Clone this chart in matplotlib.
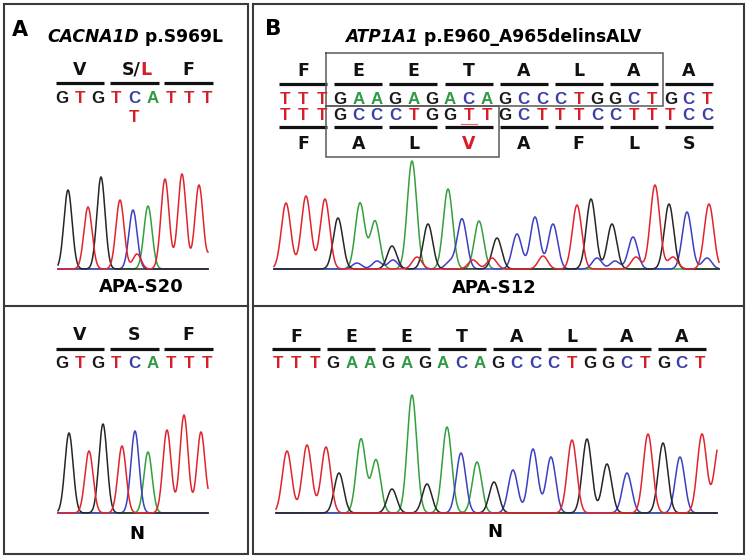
import numpy as np
import matplotlib
matplotlib.use("Agg")
import matplotlib.pyplot as plt

# ---------------- data ----------------
# Panel A (CACNA1D)
a_title_gene = "CACNA1D"
a_title_var = " p.S969L"
a_top_aa = ["V", "S/L", "F"]
a_top_bases = "GTGTCATTT"
a_top_secondary_index = 4
a_top_secondary_base = "T"
a_top_label = "APA-S20"
a_bot_aa = ["V", "S", "F"]
a_bot_bases = "GTGTCATTT"
a_bot_label = "N"

# chromatogram peaks: scan position, intensity, called base
a_top_peak_pos = [10, 30, 43, 62, 75, 79, 90, 107, 124, 141, 157]
a_top_peak_hgt = [79, 62, 92, 69, 59, 15, 63, 90, 95, 84, 40]
a_top_peak_base = ["G", "T", "G", "T", "C", "T", "A", "T", "T", "T", "T"]

a_bot_peak_pos = [11, 31, 45, 64, 77, 90, 109, 126, 143, 158]
a_bot_peak_hgt = [80, 62, 89, 67, 82, 61, 83, 98, 81, 40]
a_bot_peak_base = ["G", "T", "G", "T", "C", "A", "T", "T", "T", "T"]

# Panel B (ATP1A1)
b_title_gene = "ATP1A1"
b_title_var = " p.E960_A965delinsALV"
b_top_upper_aa = ["F", "E", "E", "T", "A", "L", "A", "A"]
b_top_upper_bases = "TTTGAAGAGACAGCCCTGGCTGCT"
b_top_lower_bases = "TTTGCCCTGGTTGCTTTCCTTTCC"
b_top_lower_aa = ["F", "A", "L", "V", "A", "F", "L", "S"]
b_top_label = "APA-S12"
b_bot_aa = ["F", "E", "E", "T", "A", "L", "A", "A"]
b_bot_bases = "TTTGAAGAGACAGCCCTGGCTGCT"
b_bot_label = "N"

b_top_peak_pos = [12, 32, 51, 64, 86, 83, 101, 103, 118, 119, 138, 143, 154, 174, 176,
                  188, 199, 205, 218, 223, 243, 261, 269, 279, 303, 317, 323, 338, 341,
                  359, 362, 381, 395, 399, 413, 433, 435]
b_top_peak_hgt = [66, 73, 70, 51, 66, 6, 48, 8, 23, 9, 108, 12, 45, 80, 7,
                  50, 9, 48, 11, 31, 35, 52, 13, 45, 64, 70, 11, 45, 8,
                  32, 12, 84, 65, 12, 57, 11, 65]
b_top_peak_base = ["T", "T", "T", "G", "A", "C", "A", "C", "G", "C", "A", "T", "G", "A", "C",
                   "C", "T", "A", "T", "G", "C", "C", "T", "C", "T", "G", "C", "G", "C",
                   "C", "T", "T", "G", "T", "C", "C", "T"]

b_bot_peak_pos = [11, 31, 50, 63, 85, 100, 116, 136, 151, 171, 185, 201, 218, 237, 257,
                  275, 296, 311, 331, 351, 372, 387, 404, 426, 443]
b_bot_peak_hgt = [62, 68, 66, 40, 74, 53, 24, 118, 29, 86, 60, 51, 31, 43, 64,
                  56, 73, 74, 49, 40, 79, 70, 56, 79, 68]
b_bot_peak_base = ["T", "T", "T", "G", "A", "A", "G", "A", "G", "A", "C", "A", "G", "C", "C",
                   "C", "T", "G", "G", "C", "T", "G", "C", "T", "T"]

# ---------------- styles ----------------
W, H = 749, 560
TXT_COL = {"T": "#d41f28", "C": "#3a3ea6", "A": "#2e9a42", "G": "#1a1a1a"}
TRC_COL = {"T": "#e0242e", "C": "#3b3fc2", "A": "#33a03c", "G": "#262626"}
DARK = "#111111"
FRAME = "#3a3a3a"
TITLE_FONT = "DejaVu Sans"
BASE_FONT = "Liberation Sans"

fig = plt.figure(figsize=(W / 100, H / 100), dpi=100)
fig.patch.set_facecolor("white")
ax = fig.add_axes([0, 0, 1, 1])
ax.set_xlim(0, W)
ax.set_ylim(H, 0)
ax.axis("off")


def rect(x0, y0, x1, y1, **kw):
    ax.plot([x0, x1, x1, x0, x0], [y0, y0, y1, y1, y0], **kw)


# panel frames
fkw = dict(color=FRAME, lw=1.5, solid_joinstyle="miter")
rect(3.5, 4, 247.5, 554, **fkw)
rect(253, 4, 743.5, 554, **fkw)
ax.plot([3.5, 247.5], [306, 306], **fkw)
ax.plot([253, 743.5], [306, 306], **fkw)

# panel letters & titles
ax.text(12, 36, "A", fontsize=15, fontweight="bold", family=TITLE_FONT, ha="left", va="baseline")
ax.text(265, 35, "B", fontsize=15.5, fontweight="bold", family=TITLE_FONT, ha="left", va="baseline")


def title(x, y, gene, var):
    t1 = ax.text(x, y, gene, fontsize=12.3, fontweight="bold", style="italic",
                 family=TITLE_FONT, ha="left", va="bottom")
    ax.annotate(var, xy=(1, 0), xycoords=t1, fontsize=12.3, fontweight="bold",
                family=TITLE_FONT, ha="left", va="bottom")


title(47, 46, a_title_gene, a_title_var)
title(345, 46, b_title_gene, b_title_var)


def base_row(x0, pitch, y, bases, fs=12.2):
    xs = []
    for i, b in enumerate(bases):
        x = x0 + pitch * i
        xs.append(x)
        ax.text(x, y, b, color=TXT_COL[b], fontsize=fs, fontweight="bold",
                family=BASE_FONT, ha="center", va="baseline")
    return xs


def codon_row(xs, y_bar, y_aa, aas, colors=None, half=24.3, fs=12.5):
    for k, aa in enumerate(aas):
        c = xs[3 * k + 1]
        ax.plot([c - half, c + half], [y_bar, y_bar], color=DARK, lw=2.3,
                solid_capstyle="butt")
        col = colors[k] if colors else DARK
        if aa == "S/L":
            ax.text(c + 6, y_aa, "S/", color=DARK, fontsize=fs, fontweight="bold",
                    family=TITLE_FONT, ha="right", va="baseline")
            ax.text(c + 6, y_aa, "L", color=TXT_COL["T"], fontsize=fs, fontweight="bold",
                    family=TITLE_FONT, ha="left", va="baseline")
        else:
            ax.text(c, y_aa, aa, color=col, fontsize=fs, fontweight="bold",
                    family=TITLE_FONT, ha="center", va="baseline")


# ---- Panel A top ----
xs = base_row(62, 18.1, 103, a_top_bases)
codon_row(xs, 83, 75, a_top_aa)
ax.text(xs[a_top_secondary_index], 121.5, a_top_secondary_base, color=TXT_COL["T"],
        fontsize=12.2, fontweight="bold", family=BASE_FONT, ha="center", va="baseline")

# ---- Panel A bottom ----
xs = base_row(62, 18.1, 368, a_bot_bases)
codon_row(xs, 349, 340, a_bot_aa)

# ---- Panel B top ----
xs = base_row(285, 18.35, 104, b_top_upper_bases)
codon_row(xs, 83.5, 76, b_top_upper_aa, half=24)
xs2 = base_row(285, 18.35, 119.5, b_top_lower_bases)
lower_cols = [DARK, DARK, DARK, TXT_COL["T"], DARK, DARK, DARK, DARK]
codon_row(xs2, 127, 149, b_top_lower_aa, colors=lower_cols, half=24)
# boxes around the deletion-insertion
bkw = dict(color="#595959", lw=1.1, solid_joinstyle="miter")
rect(326, 53, 663, 105.5, **bkw)
rect(326, 105.5, 499, 157, **bkw)
# underline of inserted T
ax.plot([xs2[10] - 8, xs2[10] + 8], [123.5, 123.5], color="#e07070", lw=0.9)

# ---- Panel B bottom ----
xs = base_row(278, 18.35, 368, b_bot_bases)
codon_row(xs, 349.3, 341.5, b_bot_aa, half=24)


# ---------------- chromatograms ----------------
def chromatogram(x0, x1, base_y, top, pos, hgt, base, sigma):
    width = x1 - x0
    cax = fig.add_axes([x0 / W, (H - base_y) / H, width / W, top / H])
    cax.set_xlim(0, width)
    cax.set_ylim(0, top)
    cax.axis("off")
    x = np.linspace(0, width, 1200)
    pos = np.asarray(pos, float)
    hgt = np.asarray(hgt, float)
    base = np.asarray(base)
    for b in ["A", "C", "G", "T"]:
        m = base == b
        y = (hgt[m][:, None] * np.exp(-0.5 * ((x[None, :] - pos[m][:, None]) / sigma) ** 2)).sum(axis=0)
        cax.plot(x, y, color=TRC_COL[b], lw=1.1, clip_on=False)
    return cax


chromatogram(58, 208, 269, 130, a_top_peak_pos, a_top_peak_hgt, a_top_peak_base, 4.1)
chromatogram(58, 208, 513, 130, a_bot_peak_pos, a_bot_peak_hgt, a_bot_peak_base, 4.1)
chromatogram(274, 719, 269, 130, b_top_peak_pos, b_top_peak_hgt, b_top_peak_base, 4.7)
chromatogram(276, 717, 513, 130, b_bot_peak_pos, b_bot_peak_hgt, b_bot_peak_base, 4.7)

# sample labels
lkw = dict(fontsize=13, fontweight="bold", family=TITLE_FONT, ha="center", va="baseline")
ax.text(141, 292, a_top_label, **lkw)
ax.text(137, 539, a_bot_label, **lkw)
ax.text(494, 293, b_top_label, **lkw)
ax.text(495, 537, b_bot_label, **lkw)

fig.savefig("out.png", dpi=100, facecolor="white")
